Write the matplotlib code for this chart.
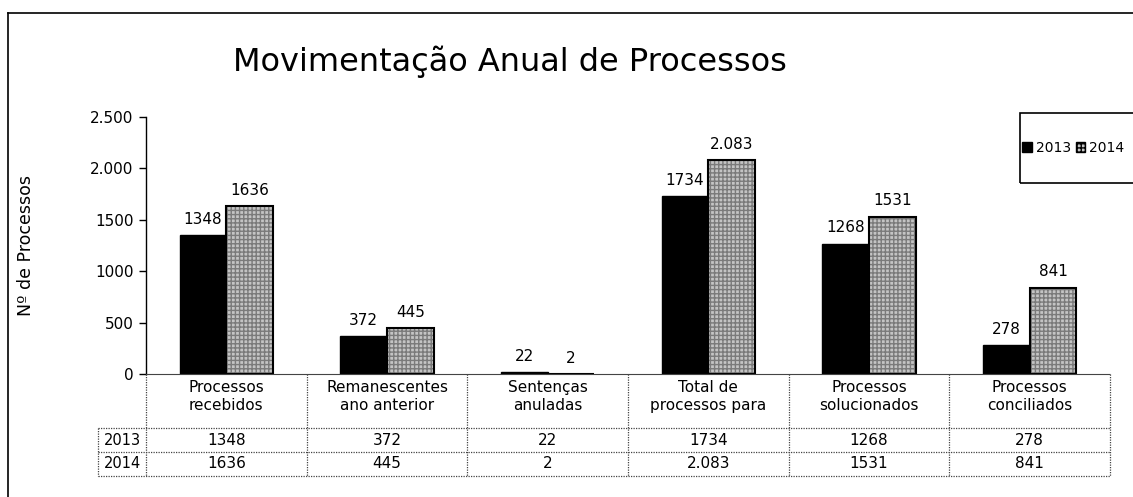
import matplotlib
matplotlib.use("Agg")
import matplotlib.pyplot as plt
from matplotlib.lines import Line2D
from matplotlib.patches import Patch, Rectangle
import numpy as np

categories = ["Processos\nrecebidos", "Remanescentes\nano anterior", "Sentenças\nanuladas",
              "Total de\nprocessos para", "Processos\nsolucionados", "Processos\nconciliados"]
series_names = ["2013", "2014"]
values_2013 = [1348, 372, 22, 1734, 1268, 278]
values_2014 = [1636, 445, 2, 2083, 1531, 841]
labels_2013 = ["1348", "372", "22", "1734", "1268", "278"]
labels_2014 = ["1636", "445", "2", "2.083", "1531", "841"]
ytick_values = [0, 500, 1000, 1500, 2000, 2500]
ytick_labels = ["0", "500", "1000", "1500", "2.000", "2.500"]

plt.rcParams['font.family'] = ['DejaVu Sans']
fig = plt.figure(figsize=(11.33, 4.97), dpi=100)
ax = fig.add_axes([146/1133, 1-374/497, (1110-146)/1133, (374-117)/497])

x = np.arange(len(categories))
w = 0.29
ax.bar(x - w/2, values_2013, w, color='black', edgecolor='black', linewidth=1)
ax.bar(x + w/2, values_2014, w, color='#c4c4c4', edgecolor='#7a7a7a', hatch='++++', linewidth=0)
ax.bar(x + w/2, values_2014, w, fill=False, edgecolor='black', linewidth=1.5)

for xi, v, lab in zip(x - w/2, values_2013, labels_2013):
    ax.text(xi, v + 80, lab, ha='center', va='bottom', fontsize=11)
for xi, v, lab in zip(x + w/2, values_2014, labels_2014):
    ax.text(xi, v + 80, lab, ha='center', va='bottom', fontsize=11)

ax.set_xlim(-0.5, len(categories) - 0.5)
ax.set_ylim(0, 2500)
ax.set_yticks(ytick_values)
ax.set_yticklabels(ytick_labels, fontsize=11)
ax.set_xticks([])
for s in ['top', 'right']:
    ax.spines[s].set_visible(False)
ax.spines['bottom'].set_linestyle((0, (1, 1)))
ax.spines['bottom'].set_color('#444444')
ax.spines['left'].set_linewidth(1)
ax.tick_params(axis='y', length=5, width=1, pad=4)

# table below axis
tr = ax.get_xaxis_transform()
for i, c in enumerate(categories):
    ax.text(i, -0.088, c, transform=tr, ha='center', va='center', fontsize=11, linespacing=1.25)
    ax.text(i, -0.257, labels_2013[i], transform=tr, ha='center', va='center', fontsize=11)
    ax.text(i, -0.35, labels_2014[i], transform=tr, ha='center', va='center', fontsize=11)
hx = -0.5 - 48/160.7
ax.text((hx - 0.5)/2, -0.257, series_names[0], transform=tr, ha='center', va='center', fontsize=10.5)
ax.text((hx - 0.5)/2, -0.35, series_names[1], transform=tr, ha='center', va='center', fontsize=10.5)

for xs in np.arange(0.5, len(categories) - 0.5 + 1):
    ax.add_line(Line2D([xs, xs], [0, -0.397], transform=tr, color='#444444', lw=0.9,
                       linestyle=(0, (1, 1)), clip_on=False))
ax.add_line(Line2D([-0.5, -0.5], [0, -0.397], transform=tr, color='#444444', lw=0.9,
                   linestyle=(0, (1, 1)), clip_on=False))
ax.add_line(Line2D([hx, hx], [-0.21, -0.397], transform=tr, color='#444444', lw=0.9,
                   linestyle=(0, (1, 1)), clip_on=False))
for yy in [-0.21, -0.3035, -0.397]:
    ax.add_line(Line2D([hx, len(categories) - 0.5], [yy, yy], transform=tr, color='#444444',
                       lw=0.9, linestyle=(0, (1, 1)), clip_on=False))

ax.set_ylabel("Nº de Processos", fontsize=12.5)
ax.yaxis.set_label_coords(-0.115, 0.5)

fig.text(510/1133, 1-62/497, "Movimentação Anual de Processos", ha='center', va='center', fontsize=23)

# outer frame
fig.add_artist(Line2D([8/1133, 8/1133], [0, 1-13/497], transform=fig.transFigure, color='black', lw=1.2))
fig.add_artist(Line2D([8/1133, 1], [1-13/497, 1-13/497], transform=fig.transFigure, color='black', lw=1.2))

# legend frame running off the right edge, as in the reference
fig.add_artist(Rectangle((1020/1133, 1-183/497), 140/1133, 70/497, transform=fig.transFigure,
                         fill=False, edgecolor='black', lw=1.2))
handles = [Patch(facecolor='black', edgecolor='black'),
           Patch(facecolor='#c4c4c4', edgecolor='black', hatch='++++')]
leg = fig.legend(handles, series_names, loc='center left', bbox_to_anchor=(1021/1133, 1-148/497),
                 ncol=2, frameon=False, fontsize=10,
                 handlelength=0.7, handleheight=0.7, handletextpad=0.25, columnspacing=0.35,
                 borderpad=0.1, borderaxespad=0)

fig.savefig("out.png", dpi=100)
